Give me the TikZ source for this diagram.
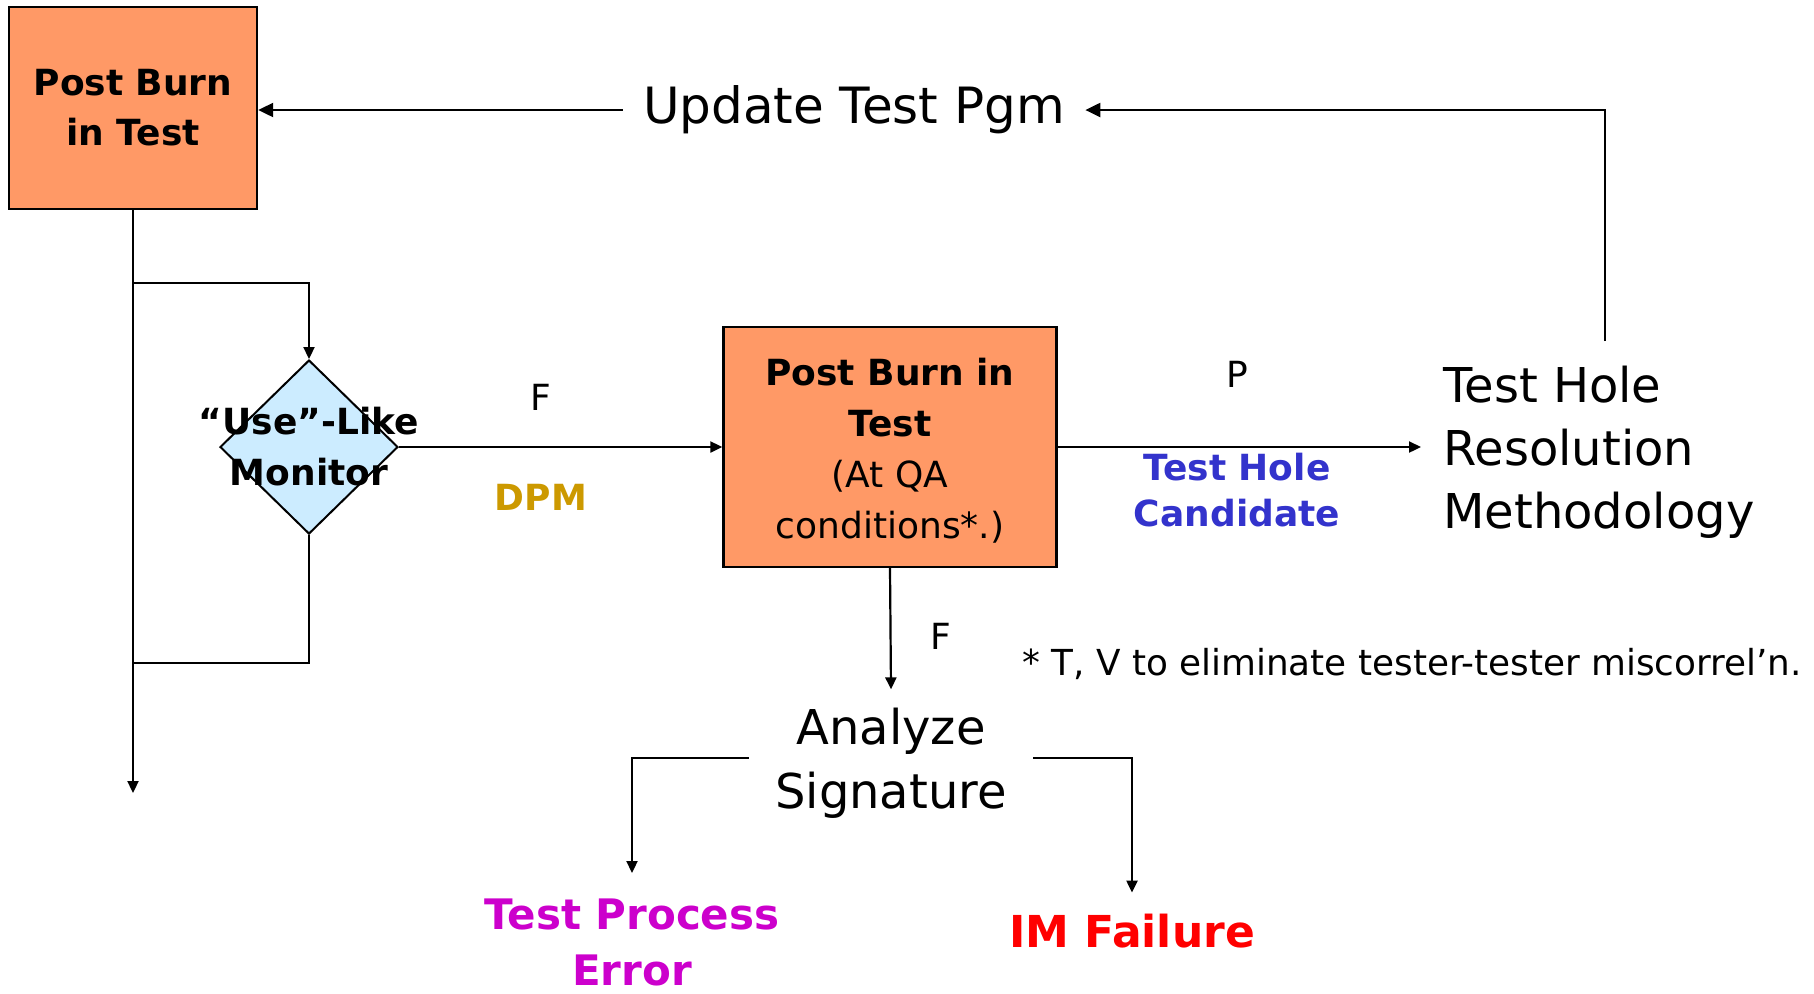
\documentclass[tikz,border=0pt]{standalone}
\usepackage{fontspec}
\setmainfont{DejaVu Sans}
\usetikzlibrary{arrows.meta,shapes.geometric}
\definecolor{boxfill}{RGB}{255,153,102}
\definecolor{monfill}{RGB}{204,236,255}
\definecolor{dpmcol}{RGB}{204,153,0}
\definecolor{candcol}{RGB}{51,51,204}
\definecolor{errcol}{RGB}{204,0,204}
\definecolor{imcol}{RGB}{255,0,0}
\newcommand{\fs}[2]{\fontsize{#1}{#2}\selectfont}
\begin{document}
\begin{tikzpicture}[x=0.5pt,y=-0.5pt,
  procbox/.style={draw=black, fill=boxfill, line width=1.2pt, inner sep=0pt, align=center},
  txt/.style={inner sep=0pt, align=center},
  conn/.style={line width=1.1pt, -{Triangle[length=6pt,width=5.5pt]}},
  bigconn/.style={line width=1.1pt, -{Triangle[length=7.5pt,width=7pt]}},
  plain/.style={line width=1.1pt}]
\useasboundingbox (0,0) rectangle (1814,993);

% main process boxes
\node[procbox, minimum width=124pt, minimum height=101pt, font=\bfseries\fs{18}{25}] (pbt) at (133,108) {Post Burn\\in Test};
\node[procbox, minimum width=166.5pt, minimum height=120pt] (qa) at (890,447) {};
\node[txt, font=\fs{18}{25.5}] (qatxt) at (890,451)
  {\bfseries Post Burn in\\\bfseries Test\\(At QA\\conditions*.)};

% decision diamond and its text
\node[diamond, draw=black, fill=monfill, line width=1pt, minimum width=89pt, minimum height=87pt, inner sep=0pt] (mon) at (309,447) {};
\node[txt, font=\bfseries\fs{18}{25.5}] (montxt) at (309,447) {“Use”-Like\\Monitor};

% free-standing text blocks
\node[txt, inner xsep=10pt, font=\fs{25}{30}] (upd) at (854,110) {Update Test Pgm};
\node[txt, anchor=west, inner xsep=11pt, align=left, font=\fs{24}{31.5}] (thr) at (1421,452) {Test Hole\\Resolution\\Methodology};
\node[txt, inner xsep=13pt, inner ysep=9pt, font=\fs{24}{32}] (ana) at (891,763) {Analyze\\Signature};
\node[txt, inner ysep=12.5pt, text=errcol, font=\bfseries\fs{21}{28}] (tpe) at (632,942) {Test Process\\Error};
\node[txt, inner ysep=10.5pt, text=imcol, font=\bfseries\fs{22}{28}] (imf) at (1132,931) {IM Failure};

% edge labels
\node[txt, font=\fs{18}{22}] (lf1) at (541,397) {F};
\node[txt, text=dpmcol, font=\bfseries\fs{18}{22}] (ldpm) at (541,497) {DPM};
\node[txt, font=\fs{18}{22}] (lp) at (1237,374) {P};
\node[txt, text=candcol, font=\bfseries\fs{18}{23}] (lcand) at (1237,490) {Test Hole\\Candidate};
\node[txt, font=\fs{18}{22}] (lf2) at (941,636) {F};
\node[txt, anchor=west, font=\fs{17.9}{22}] (note) at (1022,664) {* T, V to eliminate tester-tester miscorrel’n.};

% routing points
\coordinate (split) at (133,283);
\coordinate (join) at (133,663);
\coordinate (out) at (133,793);
\coordinate (fbk) at (1605,341);

% connectors
\draw[conn] (pbt.south) -- (out);
\draw[conn] (split) -| (mon.north);
\draw[plain] (mon.south) |- (join);
\draw[conn] (mon.east) -- (qa.west);
\draw[conn] (qa.east) -- (qa.east -| thr.west);
\draw[conn] (qa.south) -- (ana.north);
\draw[conn] ([yshift=2.5pt]ana.west) -| (tpe.north);
\draw[conn] ([yshift=2.5pt]ana.east) -| (imf.north);
\draw[bigconn] (fbk) |- (upd.east);
\draw[bigconn] (upd.west) -- (upd.west -| pbt.east);
\end{tikzpicture}
\end{document}
